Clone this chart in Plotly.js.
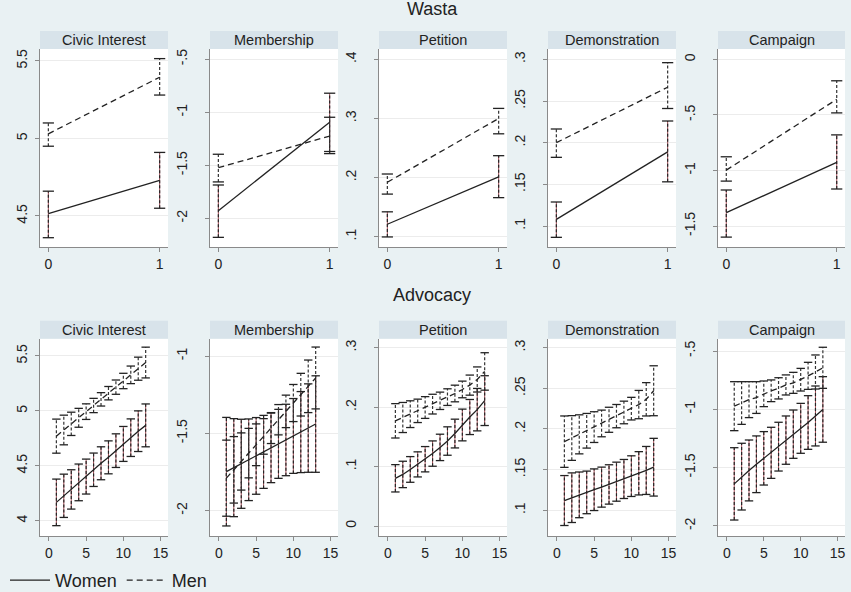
<!DOCTYPE html>
<html><head><meta charset="utf-8">
<script src="https://cdn.plot.ly/plotly-3.0.1.min.js"></script>
<style>html,body{margin:0;padding:0;background:#e9f1f3}#chart{width:851px;height:592px}</style>
</head><body><div id="chart"></div>
<script>
// ---------- DATA ----------
const panelTitles = ['Civic Interest', 'Membership', 'Petition', 'Demonstration', 'Campaign'];
const rowTitles = ['Wasta', 'Advocacy'];
const seriesNames = ['Women', 'Men'];
const wastaX = [0, 1];
const advocacyX = [1, 2, 3, 4, 5, 6, 7, 8, 9, 10, 11, 12, 13];

// Wasta (x = 0 / 1)
const wCivicWomen = [4.515, 4.73], wCivicWomenLo = [4.36, 4.55], wCivicWomenHi = [4.66, 4.91];
const wCivicMen = [5.03, 5.395], wCivicMenLo = [4.95, 5.28], wCivicMenHi = [5.10, 5.515];
const wMemberWomen = [-1.928, -1.094], wMemberWomenLo = [-2.18, -1.39], wMemberWomenHi = [-1.686, -0.82];
const wMemberMen = [-1.523, -1.224], wMemberMenLo = [-1.657, -1.37], wMemberMenHi = [-1.396, -1.047];
const wPetitionWomen = [0.121, 0.201], wPetitionWomenLo = [0.0995, 0.166], wPetitionWomenHi = [0.142, 0.237];
const wPetitionMen = [0.192, 0.300], wPetitionMenLo = [0.172, 0.274], wPetitionMenHi = [0.206, 0.317];
const wDemoWomen = [0.108, 0.189], wDemoWomenLo = [0.0864, 0.153], wDemoWomenHi = [0.1288, 0.226];
const wDemoMen = [0.200, 0.2665], wDemoMenLo = [0.1824, 0.241], wDemoMenHi = [0.2164, 0.296];
const wCampWomen = [-1.38, -0.928], wCampWomenLo = [-1.60, -1.167], wCampWomenHi = [-1.176, -0.68];
const wCampMen = [-0.997, -0.36], wCampMenLo = [-1.096, -0.482], wCampMenHi = [-0.877, -0.193];

// Advocacy (x = 1..13)
const aCivicWomen = [4.167, 4.227, 4.285, 4.349, 4.402, 4.464, 4.523, 4.577, 4.638, 4.699, 4.756, 4.815, 4.868];
const aCivicWomenLo = [3.955, 4.030, 4.106, 4.182, 4.243, 4.312, 4.373, 4.427, 4.485, 4.540, 4.585, 4.630, 4.673];
const aCivicWomenHi = [4.379, 4.424, 4.464, 4.516, 4.561, 4.616, 4.673, 4.727, 4.791, 4.858, 4.927, 5.000, 5.063];
const aCivicMen = [4.770, 4.826, 4.882, 4.937, 4.993, 5.049, 5.105, 5.161, 5.216, 5.272, 5.328, 5.384, 5.440];
const aCivicMenLo = [4.615, 4.691, 4.776, 4.851, 4.922, 4.984, 5.044, 5.100, 5.151, 5.202, 5.248, 5.279, 5.300];
const aCivicMenHi = [4.925, 4.961, 4.988, 5.023, 5.064, 5.114, 5.166, 5.222, 5.281, 5.342, 5.408, 5.489, 5.580];

const aMemberWomen = [-1.748, -1.722, -1.697, -1.671, -1.646, -1.620, -1.594, -1.568, -1.543, -1.517, -1.492, -1.466, -1.440];
const aMemberWomenLo = [-2.099, -2.039, -1.985, -1.935, -1.894, -1.856, -1.819, -1.791, -1.774, -1.759, -1.754, -1.752, -1.752];
const aMemberWomenHi = [-1.397, -1.405, -1.409, -1.407, -1.398, -1.384, -1.369, -1.345, -1.312, -1.275, -1.230, -1.180, -1.128];
const aMemberMen = [-1.790, -1.736, -1.682, -1.628, -1.574, -1.520, -1.466, -1.412, -1.358, -1.304, -1.250, -1.196, -1.142];
const aMemberMenLo = [-2.036, -1.951, -1.867, -1.788, -1.709, -1.635, -1.566, -1.510, -1.463, -1.424, -1.388, -1.366, -1.342];
const aMemberMenHi = [-1.544, -1.521, -1.497, -1.468, -1.439, -1.405, -1.366, -1.314, -1.253, -1.184, -1.112, -1.026, -0.942];

const aPetitionWomen = [0.0803, 0.0868, 0.0952, 0.1037, 0.1124, 0.1219, 0.1323, 0.1430, 0.1556, 0.1700, 0.1834, 0.1958, 0.2110];
const aPetitionWomenLo = [0.0573, 0.0646, 0.0736, 0.0826, 0.0911, 0.1006, 0.1101, 0.1191, 0.1314, 0.1433, 0.1539, 0.1601, 0.1691];
const aPetitionWomenHi = [0.1033, 0.1090, 0.1168, 0.1248, 0.1337, 0.1432, 0.1545, 0.1669, 0.1798, 0.1967, 0.2129, 0.2315, 0.2529];
const aPetitionMen = [0.1770, 0.1826, 0.1882, 0.1938, 0.1994, 0.2051, 0.2107, 0.2169, 0.2230, 0.2298, 0.2371, 0.2466, 0.2601];
const aPetitionMenLo = [0.1481, 0.1573, 0.1657, 0.1741, 0.1811, 0.1885, 0.1961, 0.2029, 0.2090, 0.2158, 0.2202, 0.2255, 0.2286];
const aPetitionMenHi = [0.2059, 0.2079, 0.2107, 0.2135, 0.2177, 0.2217, 0.2253, 0.2309, 0.2370, 0.2438, 0.2540, 0.2677, 0.2916];

const aDemoWomen = [0.1120, 0.1155, 0.1190, 0.1220, 0.1253, 0.1285, 0.1318, 0.1352, 0.1385, 0.1420, 0.1455, 0.1490, 0.1530];
const aDemoWomenLo = [0.0813, 0.0850, 0.0909, 0.0958, 0.0997, 0.1039, 0.1076, 0.1112, 0.1145, 0.1170, 0.1189, 0.1195, 0.1175];
const aDemoWomenHi = [0.1427, 0.1460, 0.1471, 0.1482, 0.1509, 0.1531, 0.1560, 0.1592, 0.1625, 0.1670, 0.1721, 0.1785, 0.1885];
const aDemoMen = [0.1844, 0.1889, 0.1934, 0.1978, 0.2023, 0.2068, 0.2113, 0.2158, 0.2203, 0.2250, 0.2300, 0.2365, 0.2470];
const aDemoMenLo = [0.1528, 0.1614, 0.1694, 0.1765, 0.1834, 0.1904, 0.1959, 0.2015, 0.2064, 0.2111, 0.2126, 0.2160, 0.2163];
const aDemoMenHi = [0.2160, 0.2164, 0.2174, 0.2191, 0.2212, 0.2232, 0.2267, 0.2301, 0.2342, 0.2389, 0.2474, 0.2570, 0.2777];

const aCampWomen = [-1.639, -1.577, -1.524, -1.471, -1.420, -1.373, -1.320, -1.264, -1.213, -1.163, -1.113, -1.057, -1.001];
const aCampWomenLo = [-1.949, -1.863, -1.785, -1.714, -1.649, -1.592, -1.529, -1.471, -1.420, -1.377, -1.343, -1.314, -1.282];
const aCampWomenHi = [-1.329, -1.291, -1.263, -1.228, -1.191, -1.154, -1.111, -1.057, -1.006, -0.949, -0.883, -0.800, -0.720];
const aCampMen = [-0.973, -0.946, -0.917, -0.899, -0.867, -0.841, -0.820, -0.791, -0.773, -0.746, -0.713, -0.680, -0.644];
const aCampMenLo = [-1.183, -1.129, -1.071, -1.035, -0.977, -0.934, -0.911, -0.877, -0.863, -0.843, -0.829, -0.826, -0.820];
const aCampMenHi = [-0.763, -0.763, -0.763, -0.763, -0.757, -0.748, -0.729, -0.705, -0.683, -0.649, -0.597, -0.534, -0.468];

// Tick values / labels
const wastaXTicks = [0, 1];
const advocacyXTicks = [0, 5, 10, 15];
const wCivicTicks = [4.5, 5, 5.5], wCivicTickText = ['4.5', '5', '5.5'];
const wMemberTicks = [-2, -1.5, -1, -0.5], wMemberTickText = ['-2', '-1.5', '-1', '-.5'];
const wPetitionTicks = [0.1, 0.2, 0.3, 0.4], wPetitionTickText = ['.1', '.2', '.3', '.4'];
const wDemoTicks = [0.1, 0.15, 0.2, 0.25, 0.3], wDemoTickText = ['.1', '.15', '.2', '.25', '.3'];
const wCampTicks = [-1.5, -1, -0.5, 0], wCampTickText = ['-1.5', '-1', '-.5', '0'];
const aCivicTicks = [4, 4.5, 5, 5.5], aCivicTickText = ['4', '4.5', '5', '5.5'];
const aMemberTicks = [-2, -1.5, -1], aMemberTickText = ['-2', '-1.5', '-1'];
const aPetitionTicks = [0, 0.1, 0.2, 0.3], aPetitionTickText = ['0', '.1', '.2', '.3'];
const aDemoTicks = [0.1, 0.15, 0.2, 0.25, 0.3], aDemoTickText = ['.1', '.15', '.2', '.25', '.3'];
const aCampTicks = [-2, -1.5, -1, -0.5], aCampTickText = ['-2', '-1.5', '-1', '-.5'];

// ---------- PANEL ASSEMBLY ----------
const panels = [
  {x: wastaX, w: [wCivicWomen, wCivicWomenLo, wCivicWomenHi], m: [wCivicMen, wCivicMenLo, wCivicMenHi], tv: wCivicTicks, tt: wCivicTickText},
  {x: wastaX, w: [wMemberWomen, wMemberWomenLo, wMemberWomenHi], m: [wMemberMen, wMemberMenLo, wMemberMenHi], tv: wMemberTicks, tt: wMemberTickText},
  {x: wastaX, w: [wPetitionWomen, wPetitionWomenLo, wPetitionWomenHi], m: [wPetitionMen, wPetitionMenLo, wPetitionMenHi], tv: wPetitionTicks, tt: wPetitionTickText},
  {x: wastaX, w: [wDemoWomen, wDemoWomenLo, wDemoWomenHi], m: [wDemoMen, wDemoMenLo, wDemoMenHi], tv: wDemoTicks, tt: wDemoTickText},
  {x: wastaX, w: [wCampWomen, wCampWomenLo, wCampWomenHi], m: [wCampMen, wCampMenLo, wCampMenHi], tv: wCampTicks, tt: wCampTickText},
  {x: advocacyX, w: [aCivicWomen, aCivicWomenLo, aCivicWomenHi], m: [aCivicMen, aCivicMenLo, aCivicMenHi], tv: aCivicTicks, tt: aCivicTickText},
  {x: advocacyX, w: [aMemberWomen, aMemberWomenLo, aMemberWomenHi], m: [aMemberMen, aMemberMenLo, aMemberMenHi], tv: aMemberTicks, tt: aMemberTickText},
  {x: advocacyX, w: [aPetitionWomen, aPetitionWomenLo, aPetitionWomenHi], m: [aPetitionMen, aPetitionMenLo, aPetitionMenHi], tv: aPetitionTicks, tt: aPetitionTickText},
  {x: advocacyX, w: [aDemoWomen, aDemoWomenLo, aDemoWomenHi], m: [aDemoMen, aDemoMenLo, aDemoMenHi], tv: aDemoTicks, tt: aDemoTickText},
  {x: advocacyX, w: [aCampWomen, aCampWomenLo, aCampWomenHi], m: [aCampMen, aCampMenLo, aCampMenHi], tv: aCampTicks, tt: aCampTickText}
];
// axis ranges (styling of the frame)
const yRanges = [[4.30, 5.577], [-2.271, -0.403], [0.0825, 0.4175], [0.0748, 0.3124], [-1.689, 0.093],
                 [3.861, 5.657], [-2.164, -0.888], [-0.0168, 0.3152], [0.0684, 0.311], [-2.086, -0.3945]];
const xRanges = [[-0.075, 1.075], [-1.2, 16.0]];

const W = 851, H = 592;
const colPx = [[40, 168], [210, 338], [379, 507], [548, 676], [718, 845]];
const rowPx = [[49, 247], [338.7, 536]];
const headerH = 18;

const FONT = 'Liberation Sans, Arial, Helvetica, sans-serif';
const INK = '#222222';
const AXIS = '#8a8a8a';

const traces = [];
const layout = {
  width: W, height: H,
  margin: {l: 0, r: 0, t: 0, b: 0, autoexpand: false},
  paper_bgcolor: '#e9f1f3',
  plot_bgcolor: '#ffffff',
  font: {family: FONT, color: INK, size: 14},
  showlegend: true,
  legend: {orientation: 'h', x: 5 / W, y: -7 / H, xanchor: 'left', yanchor: 'bottom',
           font: {family: FONT, size: 18, color: INK}, bgcolor: 'rgba(0,0,0,0)',
           itemwidth: 40, tracegroupgap: 0},
  shapes: [], annotations: []
};

function segs(xs, lo, hi) {
  const X = [], Y = [];
  xs.forEach((x, i) => { X.push(x, x, null); Y.push(lo[i], hi[i], null); });
  return {X, Y};
}

panels.forEach((p, i) => {
  const row = i < 5 ? 0 : 1, col = i % 5;
  const k = i + 1;
  const xa = 'x' + k, ya = 'y' + k;
  const xd = [colPx[col][0] / W, colPx[col][1] / W];
  const yd = [1 - rowPx[row][1] / H, 1 - rowPx[row][0] / H];
  const capSize = row === 0 ? 8 : 6;

  layout['xaxis' + k] = {
    domain: xd, anchor: ya, range: xRanges[row],
    tickvals: row === 0 ? wastaXTicks : advocacyXTicks,
    ticktext: (row === 0 ? wastaXTicks : advocacyXTicks).map(String),
    showgrid: false, zeroline: false, showline: true, linecolor: AXIS, linewidth: 1,
    ticks: 'outside', ticklen: 4, tickcolor: AXIS, tickfont: {size: 14, color: INK, family: FONT},
    ticklabelstandoff: 0, fixedrange: true
  };
  layout['yaxis' + k] = {
    domain: yd, anchor: xa, range: yRanges[i],
    tickvals: p.tv, ticktext: p.tt, tickangle: -90,
    showgrid: true, gridcolor: '#ececec', gridwidth: 1,
    zeroline: false, showline: true, linecolor: AXIS, linewidth: 1,
    ticks: 'outside', ticklen: 4, tickcolor: AXIS, tickfont: {size: 14, color: INK, family: FONT},
    ticklabelstandoff: col === 0 ? 2 : 12, fixedrange: true
  };

  // header strip
  layout.shapes.push({type: 'rect', xref: 'paper', yref: 'paper', x0: xd[0], x1: xd[1],
    y0: yd[1], y1: yd[1] + headerH / H, fillcolor: '#d8e3ea', line: {width: 0}, layer: 'below'});
  layout.annotations.push({xref: 'paper', yref: 'paper', x: (xd[0] + xd[1]) / 2, y: yd[1] + headerH / 2 / H,
    text: panelTitles[col], showarrow: false, xanchor: 'center', yanchor: 'middle',
    font: {size: 14.5, color: INK, family: FONT}});

  [p.w, p.m].forEach((s, si) => {
    const [mean, lo, hi] = s;
    const sg = segs(p.x, lo, hi);
    if (si === 0) {
      traces.push({type: 'scatter', mode: 'lines', x: sg.X, y: sg.Y, xaxis: xa, yaxis: ya,
        line: {color: '#a34b55', width: 1}, showlegend: false, hoverinfo: 'skip'});
    }
    traces.push({type: 'scatter', mode: 'lines', x: sg.X, y: sg.Y, xaxis: xa, yaxis: ya,
      line: {color: si === 0 ? '#262626' : '#333333', width: 1.2, dash: '3px,2px'}, showlegend: false, hoverinfo: 'skip'});
    traces.push({type: 'scatter', mode: 'markers', x: p.x.concat(p.x), y: lo.concat(hi), xaxis: xa, yaxis: ya,
      marker: {symbol: 'line-ew', size: capSize, color: INK, line: {color: INK, width: 1.3}},
      showlegend: false, hoverinfo: 'skip', cliponaxis: false});
  });
  [p.w, p.m].forEach((s, si) => {
    traces.push({type: 'scatter', mode: 'lines', x: p.x, y: s[0], xaxis: xa, yaxis: ya,
      name: seriesNames[si], legendgroup: seriesNames[si], showlegend: i === 0,
      line: {color: INK, width: 1.3, dash: si === 0 ? 'solid' : '6px,4px'}});
  });
});

// row titles
layout.annotations.push({xref: 'paper', yref: 'paper', x: 432 / W, y: 1 - 9 / H, text: rowTitles[0],
  showarrow: false, xanchor: 'center', yanchor: 'middle', font: {size: 18, color: INK, family: FONT}});
layout.annotations.push({xref: 'paper', yref: 'paper', x: 432 / W, y: 1 - 295 / H, text: rowTitles[1],
  showarrow: false, xanchor: 'center', yanchor: 'middle', font: {size: 18, color: INK, family: FONT}});

Plotly.newPlot('chart', traces, layout, {displayModeBar: false, staticPlot: true});
</script>
</body></html>
